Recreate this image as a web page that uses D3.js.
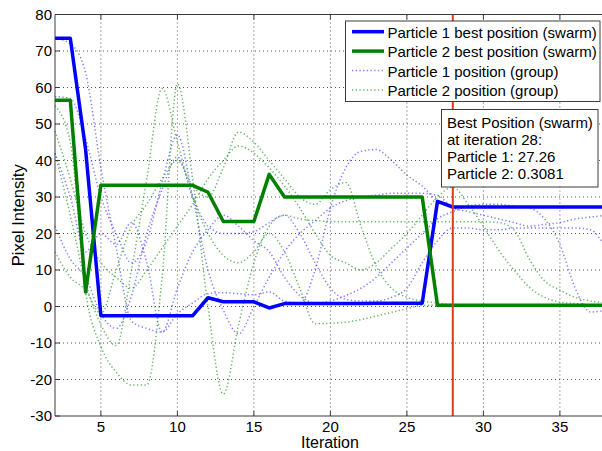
<!DOCTYPE html>
<html lang="en">
  <head>
    <meta charset="UTF-8">
    <title>PSO best positions</title>
    <style>
body {margin: 0; background: #fff;}
svg {display: block;}
text {font-family: "Liberation Sans", Arial, Helvetica, sans-serif; fill: #000;}
</style>
  </head>
  <body>
<div id="my_dataviz"></div>
<script src="https://d3js.org/d3.v7.min.js"></script>
<script>

// iterations and series
var iterations = d3.range(2, 39);

var bestP1 = [73.5, 73.5, 43, -2.5, -2.5, -2.5, -2.5, -2.5, -2.5, -2.5, 2.4, 1.3, 1.3, 1.3, -0.4, 0.8,
  0.8, 0.8, 0.8, 0.8, 0.8, 0.9, 0.9, 0.9, 0.9, 28.8, 27.26, 27.26, 27.26, 27.26, 27.26, 27.26,
  27.26, 27.26, 27.26, 27.26, 27.26];
var bestP2 = [56.5, 56.5, 4, 33.2, 33.2, 33.2, 33.2, 33.2, 33.2, 33.2, 31.3, 23.3, 23.3, 23.3, 36.2, 30,
  30, 30, 30, 30, 30, 30, 30, 30, 30, 0.31, 0.31, 0.31, 0.31, 0.31, 0.31, 0.31,
  0.31, 0.31, 0.31, 0.31, 0.31];

// group positions, particle 1 (blue dotted)
var groupP1 = [
  [73.5, 72, 64, 38, 16, -4, -6, -7, -2, 1, 3.5, 3.8, 3.5, 3.2, 4, 1.5, 1, 10, 27, 38, 42.5, 43, 40, 36, 33, 28.8, 27.26, 27.3, 27.2, 27.2, 27.3, 27.3, 27.3, 27.2, 27.3, 27.3, 27.3],
  [57.5, 57, 46, 30, 20, 12, 18, 34, 47, 30, 10, -1, -7.5, 0, 8, 15, 20, 23.5, 27, 29, 30, 30.5, 31, 31, 31, 30.5, 27, 26, 25, 24, 23, 22, 22.5, 23, 24, 24.5, 25],
  [22, 13, 8, -2, -6, 3, 20, 32, 41, 30, 22, 20, 20, 20.5, 23, 25, 20, 12, 5, 2, 1.5, 1.5, 2.5, 5, 12, 18, 21.5, 21.5, 21, 21, 21.5, 21.5, 21.5, 21.5, 21.5, 21, 16],
  [42, 30, 15, 20, 17, 23, 12, -7, 5, 15, 21, 25, 22, 18, 15, 8, 3, 1, 1.5, 3, 5, 8, 12, 16, 20, 24, 26, 27.5, 28, 28, 27.5, 27, 24, 17, 5, -1.5, -1]
];

// group positions, particle 2 (green dotted)
var groupP2 = [
  [55, 45, 4, -11, -18, -21.5, -21.5, 8, 61, 35, 0, -24, -5, 12, 22, 25, 24, 23.5, 23.3, 23.2, 23.2, 23.2, 23.2, 23.2, 23.2, 23.2, 23.2, 23.2, 23.2, 23, 21, 13, 7, 4.5, 2.5, 1.5, 1],
  [42, 25, 6.5, -5, -10.7, 10, 35, 59.7, 45, 30, 20, 14, 12, 15, 20, 15, 5, -4.7, -4.6, -4.3, -3.6, -2.6, -1.6, -0.6, 0.3, 0.31, 0.31, 0.31, 0.31, 0.31, 0.31, 0.31, 0.31, 0.31, 0.31, 0.31, 0.31],
  [15, 8, 4.5, -2, 10, 22, 28, 35, 40, 33, 30, 38, 47.8, 45, 40, 35, 30, 28, 32, 34, 22, 11, 5, 2.5, 1.5, 0.9, 0.5, 0.4, 0.4, 0.3, 0.3, 0.3, 0.3, 0.3, 0.3, 0.3, 0.3],
  [48, 35, 20, 12, 8, 5, 10, 16, 22, 28, 35, 40, 44, 42, 38, 33, 27, 20, 14, 12, 10, 12, 16, 20, 25, 30, 32.7, 28, 22, 15.4, 10, 5.3, 2.5, 1.2, 0.8, 0.5, 0.5]
];

var legendLabels = ["Particle 1 best position (swarm)", "Particle 2 best position (swarm)",
  "Particle 1 position (group)", "Particle 2 position (group)"];
var xTicks = [5, 10, 15, 20, 25, 30, 35];
var yTicks = [-30, -20, -10, 0, 10, 20, 30, 40, 50, 60, 70, 80];
var markIter = 28;
var noteLines = ["Best Position (swarm)", "at iteration 28:", "Particle 1: 27.26", "Particle 2: 0.3081"];

var W = 602, H = 451;
var pLeft = 55, pRight = 605.8, pTop = 14.5, pBottom = 416;

var svg = d3.select("#my_dataviz")
  .append("svg")
    .attr("width", W)
    .attr("height", H);

var x = d3.scaleLinear().domain([2, 38]).range([pLeft, pRight]);
var y = d3.scaleLinear().domain([-30, 80]).range([pBottom, pTop]);

// grid
svg.append("g").selectAll("line").data(xTicks).enter().append("line")
  .attr("x1", function(d) { return x(d); }).attr("x2", function(d) { return x(d); })
  .attr("y1", pTop).attr("y2", pBottom)
  .attr("stroke", "#555").attr("stroke-dasharray", "1,3");
svg.append("g").selectAll("line").data(yTicks.slice(1, -1)).enter().append("line")
  .attr("x1", pLeft).attr("x2", pRight)
  .attr("y1", function(d) { return y(d); }).attr("y2", function(d) { return y(d); })
  .attr("stroke", "#555").attr("stroke-dasharray", "1,3");

var line = d3.line()
  .x(function(d, i) { return x(iterations[i]); })
  .y(function(d) { return y(d); });
// the group traces look smoothed in the picture
var smooth = d3.line()
  .x(function(d, i) { return x(iterations[i]); })
  .y(function(d) { return y(d); })
  .curve(d3.curveMonotoneX);

var plot = svg.append("g");

var dotBlue = "#4848ff", dotGreen = "#2a952a";
plot.selectAll(".g1").data(groupP1).enter().append("path")
  .attr("d", smooth).attr("fill", "none")
  .attr("stroke", dotBlue).attr("stroke-opacity", 0.7)
  .attr("stroke-width", 1.5).attr("stroke-dasharray", "1.3,2.4");
plot.selectAll(".g2").data(groupP2).enter().append("path")
  .attr("d", smooth).attr("fill", "none")
  .attr("stroke", dotGreen).attr("stroke-opacity", 0.7)
  .attr("stroke-width", 1.5).attr("stroke-dasharray", "1.3,2.4");

plot.append("path").datum(bestP1).attr("d", line).attr("fill", "none")
  .attr("stroke", "#0000ff").attr("stroke-width", 3.5).attr("stroke-linejoin", "round");
plot.append("path").datum(bestP2).attr("d", line).attr("fill", "none")
  .attr("stroke", "#008000").attr("stroke-width", 3.5).attr("stroke-linejoin", "round");

// marker line
svg.append("line")
  .attr("x1", x(markIter)).attr("x2", x(markIter))
  .attr("y1", pTop).attr("y2", pBottom)
  .attr("stroke", "#e5381a").attr("stroke-width", 2);

// axes box and ticks
var axisCol = "#3c3c3c";
svg.append("path")
  .attr("d", "M" + pRight + "," + pTop + "H" + pLeft + "V" + pBottom + "H" + pRight)
  .attr("fill", "none").attr("stroke", axisCol).attr("stroke-width", 1);
svg.append("g").selectAll("path").data(xTicks).enter().append("path")
  .attr("d", function(d) { return "M" + x(d) + "," + pBottom + "v-5M" + x(d) + "," + pTop + "v5"; })
  .attr("stroke", axisCol);
svg.append("g").selectAll("path").data(yTicks).enter().append("path")
  .attr("d", function(d) { return "M" + pLeft + "," + y(d) + "h5"; })
  .attr("stroke", axisCol);

svg.append("g").selectAll("text").data(xTicks).enter().append("text")
  .attr("x", function(d) { return x(d); }).attr("y", 431.5)
  .attr("text-anchor", "middle").style("font-size", "15px")
  .text(function(d) { return d; });
svg.append("g").selectAll("text").data(yTicks).enter().append("text")
  .attr("x", 52).attr("y", function(d) { return y(d) + 5.4; })
  .attr("text-anchor", "end").style("font-size", "15px")
  .text(function(d) { return d; });

svg.append("text").attr("x", 330).attr("y", 448)
  .attr("text-anchor", "middle").style("font-size", "16px").text("Iteration");
svg.append("text").attr("transform", "translate(24," + ((pTop + pBottom) / 2) + ") rotate(-90)")
  .attr("text-anchor", "middle").style("font-size", "16.5px").text("Pixel Intensity");

// legend
var lg = svg.append("g");
lg.append("rect").attr("x", 345.5).attr("y", 21).attr("width", 254.5).attr("height", 80.5)
  .attr("fill", "#fff").attr("stroke", axisCol);
var legendStyle = [
  {c: "#0000ff", w: 3.5, o: 1, dash: null},
  {c: "#008000", w: 3.5, o: 1, dash: null},
  {c: dotBlue, w: 1.5, o: 0.7, dash: "1.3,2.4"},
  {c: dotGreen, w: 1.5, o: 0.7, dash: "1.3,2.4"}
];
legendLabels.forEach(function(lab, i) {
  var cy = 31.7 + i * 19.4;
  lg.append("line").attr("x1", 352).attr("x2", 384).attr("y1", cy).attr("y2", cy)
    .attr("stroke", legendStyle[i].c).attr("stroke-width", legendStyle[i].w)
    .attr("stroke-opacity", legendStyle[i].o)
    .attr("stroke-dasharray", legendStyle[i].dash);
  lg.append("text").attr("x", 387.5).attr("y", cy + 6.2).style("font-size", "15px").text(lab);
});

// annotation
var nt = svg.append("g");
nt.append("rect").attr("x", 441.5).attr("y", 109.5).attr("width", 156.5).attr("height", 77.5)
  .attr("fill", "#fff").attr("stroke", axisCol);
noteLines.forEach(function(t, i) {
  nt.append("text").attr("x", 447).attr("y", 128 + i * 17).style("font-size", "15px").text(t);
});

</script>
  </body>
</html>
